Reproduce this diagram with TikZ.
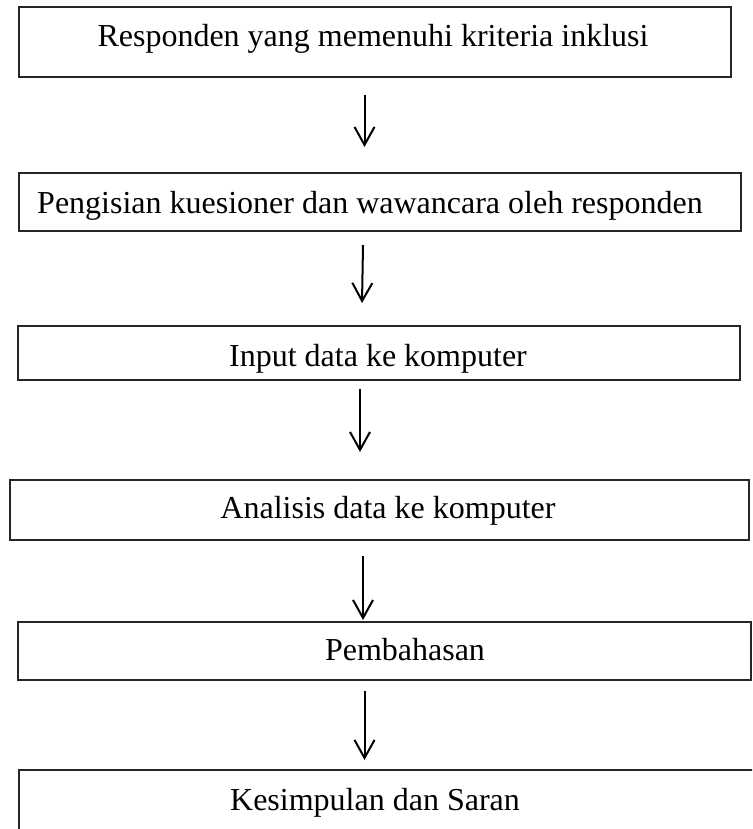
\documentclass[tikz,border=0pt]{standalone}
\usepackage{fontspec}
\setmainfont{Liberation Serif}
\usetikzlibrary{arrows.meta}
\begin{document}
\begin{tikzpicture}[x=1pt,y=-1pt,
  box/.style={draw=black!85, line width=1.6pt, rectangle, inner sep=0pt, anchor=north west},
  lbl/.style={anchor=base, inner sep=0pt, font=\fontsize{32}{38}\selectfont},
  arr/.style={line width=2pt, -{Straight Barb[length=18pt,width=20pt,line width=2pt]}}]
\useasboundingbox (0,0) rectangle (752,829);
\clip (0,0) rectangle (752,829);
% boxes
\node[box, minimum width=712pt, minimum height=70pt] (b1) at (18,6) {};
\node[box, minimum width=722pt, minimum height=58pt] (b2) at (18,172) {};
\node[box, minimum width=722pt, minimum height=54pt] (b3) at (17,325) {};
\node[box, minimum width=739pt, minimum height=60pt] (b4) at (9,479) {};
\node[box, minimum width=733pt, minimum height=58pt] (b5) at (17,621) {};
\node[box, minimum width=760pt, minimum height=90pt] (b6) at (18,769) {};
% labels
\node[lbl] (t1) at (373,47) {Responden yang memenuhi kriteria inklusi};
\node[lbl] (t2) at (370,213) {Pengisian kuesioner dan wawancara oleh responden};
\node[lbl] (t3) at (378,366) {Input data ke komputer};
\node[lbl] (t4) at (388,518) {Analisis data ke komputer};
\node[lbl] (t5) at (405,660) {Pembahasan};
\node[lbl] (t6) at (375,810) {Kesimpulan dan Saran};
% arrow ends
\coordinate (a1s) at (364.5,95);  \coordinate (a1e) at (364.5,147);
\coordinate (a2s) at (363,245);   \coordinate (a2e) at (362,303);
\coordinate (a3s) at (360,389);   \coordinate (a3e) at (360,452);
\coordinate (a4s) at (363,556);   \coordinate (a4e) at (363,620);
\coordinate (a5s) at (364.5,691); \coordinate (a5e) at (364.5,760);
\draw[arr] (a1s) -- (a1e);
\draw[arr] (a2s) -- (a2e);
\draw[arr] (a3s) -- (a3e);
\draw[arr] (a4s) -- (a4e);
\draw[arr] (a5s) -- (a5e);
\end{tikzpicture}
\end{document}
